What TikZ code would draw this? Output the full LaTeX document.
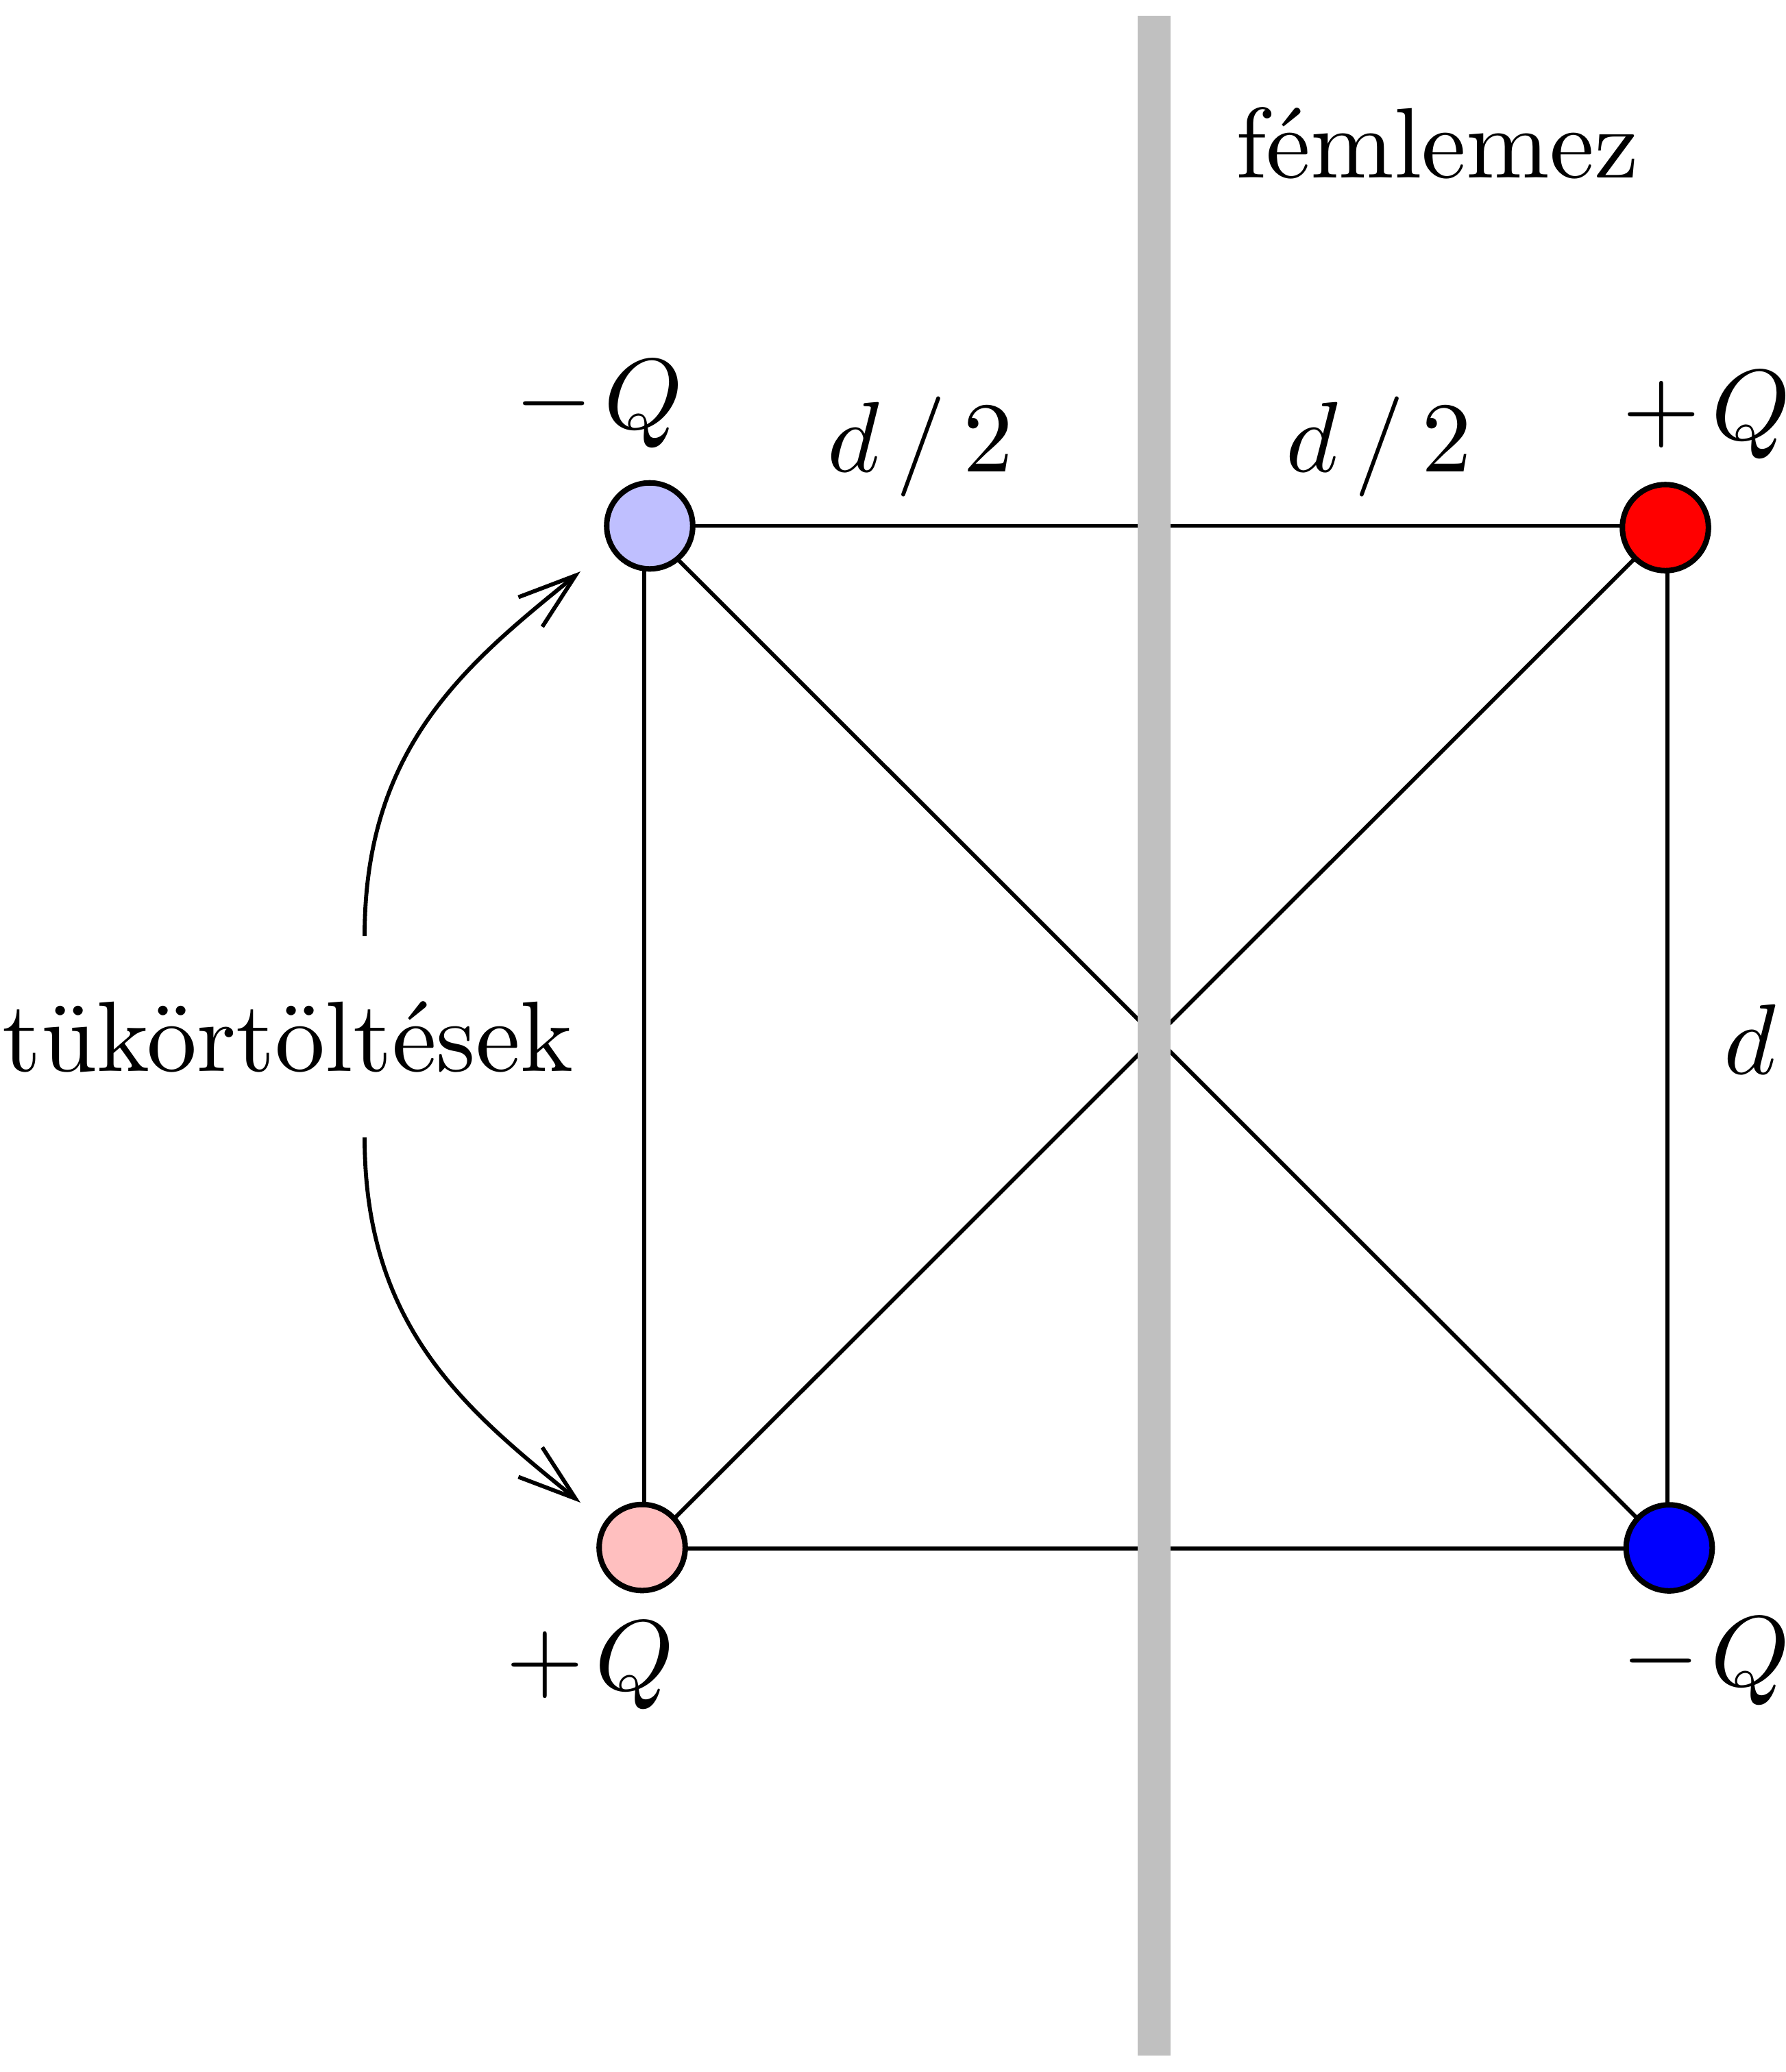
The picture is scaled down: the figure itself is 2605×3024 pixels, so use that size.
\documentclass[tikz,border=0pt]{standalone}
\usetikzlibrary{arrows.meta}
\definecolor{bargray}{RGB}{192,192,192}
\begin{document}
\begin{tikzpicture}[x=0.0685pt,y=-0.0685pt,
  charge/.style={circle,draw=black,line width=0.55pt,minimum size=8.6pt,inner sep=0pt},
  link/.style={line width=0.4pt},
  lbl/.style={anchor=base,inner sep=0pt},
  mirrorarrow/.style={line width=0.4pt,-{Straight Barb[length=5.8pt,width=3.8pt]}},
  plate/.style={line width=3.3pt,draw=bargray}]
\useasboundingbox (0,0) rectangle (2605,3024);
% square corners
\coordinate (c1) at (940,767.5);
\coordinate (c2) at (2433,767.5);
\coordinate (c3) at (2433,2260);
\coordinate (c4) at (940,2260);
\draw[link] (c1) -- (c2);
\draw[link] (c2) -- (c3);
\draw[link] (c3) -- (c4);
\draw[link] (c4) -- (c1);
\draw[link] (c1) -- (c3);
\draw[link] (c2) -- (c4);
% charges
\node[charge,fill=blue!25] (qtl) at (948,767.5) {};
\node[charge,fill=red] (qtr) at (2430,770) {};
\node[charge,fill=blue] (qbr) at (2435.5,2259) {};
\node[charge,fill=red!25] (qbl) at (937,2258.5) {};
% metal plate
\coordinate (bartop) at (1684,23);
\coordinate (barbot) at (1684,3000);
\draw[plate] (bartop) -- (barbot);
% labels
\node[lbl] (ltl) at (874,625) {$-\mkern2mu Q$};
\node[lbl] (ltr) at (2490,641) {$+\mkern2mu Q$};
\node[lbl] (lbl) at (861,2466) {$+\mkern2mu Q$};
\node[lbl] (lbr) at (2489,2460) {$-\mkern2mu Q$};
\node[lbl] (dl) at (1343,688) {$d\,/\,2$};
\node[lbl] (dr) at (2012,688) {$d\,/\,2$};
\node[lbl] (dv) at (2553,1567) {$d$};
\node[lbl] (plabel) at (2097,259) {fémlemez};
\node[lbl] (mlabel) at (420,1563) {tükörtöltések};
% mirror arrows
\coordinate (a1s) at (532,1366);
\coordinate (a1e) at (847,834);
\coordinate (a2s) at (532,1660);
\coordinate (a2e) at (847,2193);
\draw[mirrorarrow] (a1s) .. controls (532,1090) and (680,969) .. (a1e);
\draw[mirrorarrow] (a2s) .. controls (532,1937) and (680,2058) .. (a2e);
\end{tikzpicture}
\end{document}
